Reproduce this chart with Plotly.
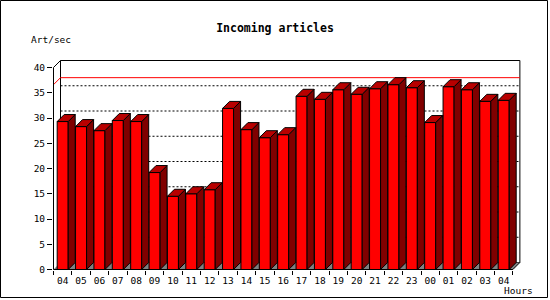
import plotly.graph_objects as go

# ---- data ----
hours = ["04", "05", "06", "07", "08", "09", "10", "11", "12", "13", "14", "15", "16",
         "17", "18", "19", "20", "21", "22", "23", "00", "01", "02", "03", "04"]
art_per_sec = [29.3, 28.3, 27.5, 29.5, 29.3, 19.2, 14.5, 15.0, 15.8, 31.9, 27.7, 26.1, 26.7,
               34.3, 33.7, 35.6, 34.7, 35.8, 36.6, 36.0, 29.1, 36.2, 35.6, 33.3, 33.5]
y_ticks = [0, 5, 10, 15, 20, 25, 30, 35, 40]
title_text = "Incoming articles"
y_title = "Art/sec"
x_title = "Hours"

# ---- geometry / style ----
W, H = 550, 300
L, R, T, B = 53, 28, 58, 30
plot_w = W - L - R
plot_h = H - T - B
px_per_slot = 18.375
px_per_unit = 5.05
depth_px = 7
n = len(hours)
ymax = y_ticks[-1]
dx = depth_px / px_per_slot
dy = depth_px / px_per_unit
x0 = -0.5 / px_per_slot
x1 = x0 + plot_w / px_per_slot
y0 = -0.5 / px_per_unit
y1 = y0 + plot_h / px_per_unit
bw = 0.6
FONT = "DejaVu Sans Mono"
FRONT, SIDE, TOP, FLOOR = "#ff0000", "#800000", "#b80000", "#808080"

def px_x(p):  # paper-pixel to paper-fraction
    return (p - L) / plot_w

def px_y(p):
    return (H - B - p) / plot_h

fig = go.Figure()

# front faces
fig.add_trace(go.Bar(x=[i + 0.5 for i in range(n)], y=art_per_sec, width=bw,
                     marker=dict(color=FRONT, line=dict(color="black", width=1)),
                     hoverinfo="skip"))

# side and top faces
sx, sy, tx, ty = [], [], [], []
for i, v in enumerate(art_per_sec):
    l, r = i + 0.5 - bw / 2, i + 0.5 + bw / 2
    sx += [r, r + dx, r + dx, r, r, None]
    sy += [0, dy, v + dy, v, 0, None]
    tx += [l, l + dx, r + dx, r, l, None]
    ty += [v, v + dy, v + dy, v, v, None]
fig.add_trace(go.Scatter(x=sx, y=sy, mode="lines", fill="toself", fillcolor=SIDE,
                         line=dict(color="black", width=1), hoverinfo="skip"))
fig.add_trace(go.Scatter(x=tx, y=ty, mode="lines", fill="toself", fillcolor=TOP,
                         line=dict(color="black", width=1), hoverinfo="skip"))

shapes = []
# back wall
shapes.append(dict(type="rect", xref="x", yref="y", x0=dx, y0=dy, x1=n + dx, y1=ymax + dy,
                   fillcolor="white", line=dict(color="black", width=1), layer="below"))
# floor
shapes.append(dict(type="path", xref="x", yref="y",
                   path=f"M 0 0 L {n} 0 L {n + dx} {dy} L {dx} {dy} Z",
                   fillcolor=FLOOR, line=dict(width=0), layer="below"))
# dotted gridlines on back wall
for v in y_ticks[1:-1]:
    shapes.append(dict(type="line", xref="x", yref="y", x0=dx, x1=n + dx, y0=v + dy, y1=v + dy,
                       line=dict(color="black", width=1, dash="2px,2px"), layer="below"))
# max line (red)
m = max(art_per_sec)
shapes.append(dict(type="path", xref="x", yref="y",
                   path=f"M 0 {m} L {dx} {m + dy} L {n + dx} {m + dy}",
                   line=dict(color="#ff0000", width=1), layer="below"))
# front axis lines
shapes.append(dict(type="path", xref="x", yref="y",
                   path=f"M 0 0 L 0 {ymax} L {dx} {ymax + dy}",
                   line=dict(color="black", width=1), layer="above"))
shapes.append(dict(type="path", xref="x", yref="y",
                   path=f"M 0 0 L {n} 0 L {n + dx} {dy}",
                   line=dict(color="black", width=1), layer="above"))
# outer frame
shapes.append(dict(type="rect", xref="paper", yref="paper",
                   x0=px_x(0.5), x1=px_x(W - 2.5), y0=px_y(H - 2.5), y1=px_y(0.5),
                   line=dict(color="black", width=1), layer="above"))

annotations = [
    dict(text=y_title, xref="paper", yref="paper", x=px_x(29), y=px_y(39),
         xanchor="left", yanchor="middle", showarrow=False,
         font=dict(family=FONT, size=9.5, color="black")),
    dict(text=x_title, xref="paper", yref="paper", x=px_x(535), y=px_y(290.5),
         xanchor="right", yanchor="middle", showarrow=False,
         font=dict(family=FONT, size=9.5, color="black")),
]

fig.update_layout(
    width=W, height=H, margin=dict(l=L, r=R, t=T, b=B, pad=0),
    paper_bgcolor="white", plot_bgcolor="white", showlegend=False,
    title=dict(text=f"<b>{title_text}</b>", x=0.5, xref="paper", xanchor="center",
               y=1 - 28 / H, yref="container", yanchor="middle",
               font=dict(family=FONT, size=11.5, color="black")),
    xaxis=dict(range=[x0, x1], showgrid=False, zeroline=False, showline=False,
               tickmode="array", tickvals=[i + 0.5 for i in range(n)], ticktext=hours,
               ticks="outside", ticklen=2, tickcolor="rgba(0,0,0,0)",
               tickfont=dict(family=FONT, size=9.5, color="black"),
               minor=dict(tickmode="array", tickvals=list(range(n + 1)), ticks="outside",
                          ticklen=4, tickcolor="black", tickwidth=1, showgrid=False),
               fixedrange=True),
    yaxis=dict(range=[y0, y1], showgrid=False, zeroline=False, showline=False,
               tickmode="array", tickvals=y_ticks, ticks="outside", ticklen=5,
               tickcolor="black", tickwidth=1,
               tickfont=dict(family=FONT, size=9.5, color="black"), fixedrange=True),
    shapes=shapes, annotations=annotations,
)
fig.update_layout(title_x=px_x(275) * plot_w / W + L / W, title_xref="container")

fig.write_html("out.html")
